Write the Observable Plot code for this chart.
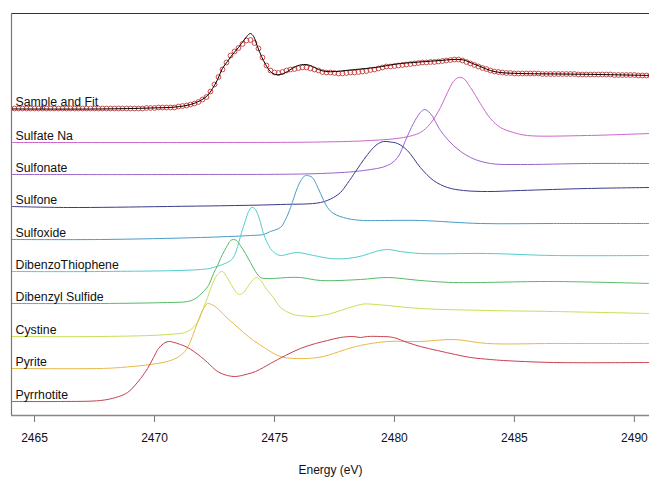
<!DOCTYPE html>
<html><head><meta charset="utf-8">
<script src="https://cdn.jsdelivr.net/npm/d3@7"></script>
<script src="https://cdn.jsdelivr.net/npm/@observablehq/plot@0.6"></script>
<style>body{margin:0;background:#fff} svg{display:block}</style>
</head><body><div id="chart"></div>
<script>
// ---- Data (normalized absorbance + vertical offset, arbitrary units) ----
const xTicks = [2465, 2470, 2475, 2480, 2485, 2490];
const seriesNames = ["Sample and Fit","Sulfate Na","Sulfonate","Sulfone","Sulfoxide","DibenzoThiophene","Dibenzyl Sulfide","Cystine","Pyrite","Pyrrhotite"];

// measured sample (circles), energy grid starting at 2464.0 eV in 1/6 eV steps
const sampleStart = 2464.0, sampleStep = 1 / 6;
const sampleValues = [
 307,307,307,307,307,307,307,307,307,307,307,307,307,307,307,307,307,307,307,307,307,307,307,307,307,307,307,307,307,307,307,
 307,307,307,307.5,307.5,307.5,308,308,308,308,
 308,309,309.5,310,311,312,313.5,316,318.5,324,
 331,338.5,346,353,360,364,367.5,371.5,375,375.5,
 372.5,367,358,350,345,343,342.5,343.5,345,346,
 346.5,347.5,348,348,347,346,345,343.5,343,343,
 342.5,342,342,342.5,343,343,343.5,344,344.5,345.5,
 346,347,348,349,349,349.5,350,350.5,351,351.5,
 352,352.5,353,353,353.5,353.5,354,354.5,355,355.5,
 356,356,355,353.5,352,350.5,349,347.5,346.5,345,
 344,343.5,343,342.5,342.5,
 342,342,342,342,342,342,342,
 341.5,341.5,341.5,341.5,341.5,341.5,341.5,341.5,341.5,
 341,341,341,341,341,341,341,341,341,
 340.5,340.5,340.5,340.5,340.5,340.5,
 340,340,340,340
];

const fitEnergy = [2464.04,2467.75,2469.83,2470.88,2471.5,2471.92,2472.21,2472.42,2472.63,2472.83,2473.04,2473.25,2473.5,2473.75,2473.92,2474.0,2474.13,2474.29,2474.46,2474.63,2474.83,2475.04,2475.25,2475.54,2475.88,2476.21,2476.5,2476.83,2477.13,2477.54,2477.96,2478.38,2478.79,2479.21,2479.71,2480.25,2480.79,2481.29,2481.92,2482.42,2482.75,2482.96,2483.25,2483.58,2484.0,2484.42,2485.25,2486.92,2488.58,2490.63];
const fitValue = [306.5,306.5,307.5,308.5,311,315,320,327,336,347,354,361,368,376,381,382,379,369,359,351,344,341,341,344,349,351,350,346,344,344,345,346,347,348,350,352,353,354,355,356,356,355,352,349,345,343,342,341.5,341,340];

const sulfateNaEnergy = [2464.04,2471.92,2476.92,2479.0,2480.38,2481.08,2481.5,2481.92,2482.21,2482.46,2482.67,2482.88,2483.17,2483.58,2484.0,2484.42,2484.96,2485.54,2488.04,2490.63];
const sulfateNaValue = [273,273,273.5,275,278,283,292,308,323,334,338,337,328,312,297,288,283,280,280,282];

const sulfonateEnergy = [2464.04,2471.08,2476.92,2478.71,2479.71,2480.13,2480.46,2480.79,2481.08,2481.25,2481.5,2481.92,2482.46,2483.17,2484.0,2485.25,2488.04,2490.63];
const sulfonateValue = [241,241,242,245,250,258,275,292,303,306,302,285,270,258,252,251,252,252];

const sulfoneEnergy = [2464.04,2466.38,2470.54,2475.25,2476.92,2477.46,2477.75,2478.04,2478.38,2478.58,2478.88,2479.13,2479.33,2479.54,2479.83,2480.13,2480.54,2481.08,2481.63,2482.21,2482.88,2483.88,2485.25,2488.04,2490.63];
const sulfoneValue = [209,208,209,211,213,218,223,232,244,251,261,268,272,274,273.5,272,265,248,235,228,225,224,225,227,228];

const sulfoxideEnergy = [2464.04,2467.75,2471.92,2474.0,2474.54,2474.83,2475.25,2475.46,2475.67,2475.96,2476.13,2476.29,2476.46,2476.58,2476.75,2476.92,2477.21,2477.46,2478.04,2478.71,2479.42,2481.08,2483.58,2486.63,2490.63];
const sulfoxideValue = [176,176,178,180,181,184,188,196,208,228,236,240,239.5,238,231,222,208,202,197,195,195,195,192,192,192];

const dbtEnergy = [2464.04,2467.75,2471.92,2472.46,2473.17,2473.33,2473.5,2473.63,2473.79,2473.92,2474.04,2474.17,2474.29,2474.42,2474.54,2474.83,2475.04,2475.25,2475.67,2475.96,2476.63,2477.33,2478.04,2478.71,2479.21,2479.71,2480.25,2481.08,2483.88,2486.63,2490.63];
const dbtValue = [144,144,146,148,155,160,172,183,195,204,208,207,202,193,182,167,162,160,162,163,160,157,157,160,164,166,164,162,162,160,160];

const dbsEnergy = [2464.04,2467.75,2470.54,2471.38,2471.71,2472.04,2472.25,2472.46,2472.63,2472.75,2472.92,2473.04,2473.17,2473.29,2473.42,2473.58,2473.79,2474.0,2474.21,2474.42,2474.71,2474.96,2475.54,2476.08,2476.92,2478.58,2479.71,2481.08,2482.46,2486.63,2490.63];
const dbsValue = [112,112,113,114,117,124,130,142,150,157,165,170,175,176,175,170,162,153,144,138,137,137,138,138,135,136,138,135,133,134,132];

const cystineEnergy = [2464.04,2467.75,2470.54,2471.38,2471.79,2472.0,2472.21,2472.42,2472.54,2472.71,2472.83,2473.0,2473.17,2473.38,2473.54,2473.71,2473.92,2474.08,2474.25,2474.42,2474.71,2474.96,2475.25,2475.79,2476.25,2476.63,2477.29,2477.75,2478.29,2478.71,2479.21,2479.71,2481.08,2483.88,2486.63,2490.63];
const cystineValue = [79,79,81,84,93,105,118,132,138,143,144,139,132,124,121,123,130,135,138,135,125,118,108,101,99.5,99,101.5,105,109,111.5,111,110,107,105,104,102];

const pyriteEnergy = [2464.04,2467.75,2468.58,2469.83,2470.67,2471.08,2471.33,2471.58,2471.79,2472.0,2472.21,2472.38,2472.63,2472.96,2473.29,2473.71,2474.13,2474.63,2475.13,2475.54,2475.96,2476.29,2476.63,2477.04,2477.46,2477.96,2478.58,2479.71,2481.08,2482.46,2483.88,2486.63,2490.63];
const pyriteValue = [47,47,48,51,55,60,66,79,93,105,112,111,107,99,92,83,75,67,60,57.5,57,57,57.5,59,62,66,70,74,74,76,72,72,72];

const pyrrhotiteEnergy = [2464.04,2466.08,2467.75,2468.38,2468.88,2469.42,2469.71,2469.96,2470.17,2470.38,2470.58,2470.75,2471.08,2471.38,2471.92,2472.21,2472.63,2473.04,2473.38,2473.88,2474.21,2474.54,2474.83,2475.46,2476.08,2476.71,2477.21,2477.75,2478.29,2478.58,2478.88,2479.42,2479.96,2480.54,2481.08,2481.79,2482.54,2483.17,2484.0,2484.54,2486.63,2490.63];
const pyrrhotiteValue = [14,14,15,18,23,37,47,58,67,72,74,73.5,71,68,59,53,44,40,39,41.5,44,48,52,60,67,72,75,78,79,78,79,79,78,73,69,65,61,58,56,55,53,53];

// ---- Styles ----
const palette = ["#000000","#cc66cc","#9966cc","#3a3a8c","#4a9cc8","#55cccc","#55bb66","#ccdd55","#e8b84a","#c8404f"];
const sampleColor = "#cc4a4a";

// ---- Build tables ----
const refs = [
  ["Sulfate Na", sulfateNaEnergy, sulfateNaValue],
  ["Sulfonate", sulfonateEnergy, sulfonateValue],
  ["Sulfone", sulfoneEnergy, sulfoneValue],
  ["Sulfoxide", sulfoxideEnergy, sulfoxideValue],
  ["DibenzoThiophene", dbtEnergy, dbtValue],
  ["Dibenzyl Sulfide", dbsEnergy, dbsValue],
  ["Cystine", cystineEnergy, cystineValue],
  ["Pyrite", pyriteEnergy, pyriteValue],
  ["Pyrrhotite", pyrrhotiteEnergy, pyrrhotiteValue]
];
const refRows = refs.flatMap(([name, es, vs]) => es.map((e, i) => ({name, energy: e, value: vs[i]})));
const fitRows = fitEnergy.map((e, i) => ({energy: e, value: fitValue[i]}));
const sampleRows = sampleValues.map((v, i) => ({energy: sampleStart + sampleStep * i, value: v}));
const firstValue = {"Sample and Fit": sampleValues[0]};
refs.forEach(([name, es, vs]) => firstValue[name] = vs[0]);
const labelRows = seriesNames.map(name => ({name, value: firstValue[name] + 6.5}));

const xDomain = [2464.04, 2490.63];
const yDomain = [0, 402];

const chart = Plot.plot({
  width: 649,
  height: 479,
  marginLeft: 11,
  marginRight: 0,
  marginTop: 13,
  marginBottom: 64,
  style: {fontFamily: "'Liberation Sans', Arial, sans-serif", fontSize: "12px", background: "#fff", color: "#111"},
  x: {domain: xDomain},
  y: {domain: yDomain, axis: null},
  color: {domain: seriesNames, range: palette},
  marks: [
    Plot.dot(sampleRows, {x: "energy", y: "value", r: 2.4, stroke: sampleColor, strokeWidth: 1, fill: "none", clip: true}),
    Plot.line(fitRows, {x: "energy", y: "value", stroke: "#000", strokeWidth: 1, curve: "catmull-rom", clip: true}),
    Plot.line(refRows, {x: "energy", y: "value", z: "name", stroke: "name", strokeWidth: 1, curve: "catmull-rom", clip: true}),
    Plot.ruleY([yDomain[1]], {stroke: "#333", strokeWidth: 1}),
    Plot.ruleX([xDomain[0]], {stroke: "#777", strokeWidth: 1.2}),
    Plot.ruleY([yDomain[0]], {stroke: "#888", strokeWidth: 1.5}),
    Plot.axisX({ticks: xTicks, tickSize: 7, tickPadding: 11, tickFormat: d => String(d), stroke: "#777", fill: "#111", fontSize: 12, label: null}),
    Plot.text(labelRows, {frameAnchor: "left", dx: 4, y: "value", text: "name", textAnchor: "start", lineAnchor: "middle", fontSize: 12.3, fill: "#111"}),
    Plot.text(["Energy (eV)"], {frameAnchor: "bottom", dy: 58, text: d => d, fontSize: 12, fill: "#111"})
  ]
});
document.getElementById("chart").appendChild(chart);
</script>
</body></html>
